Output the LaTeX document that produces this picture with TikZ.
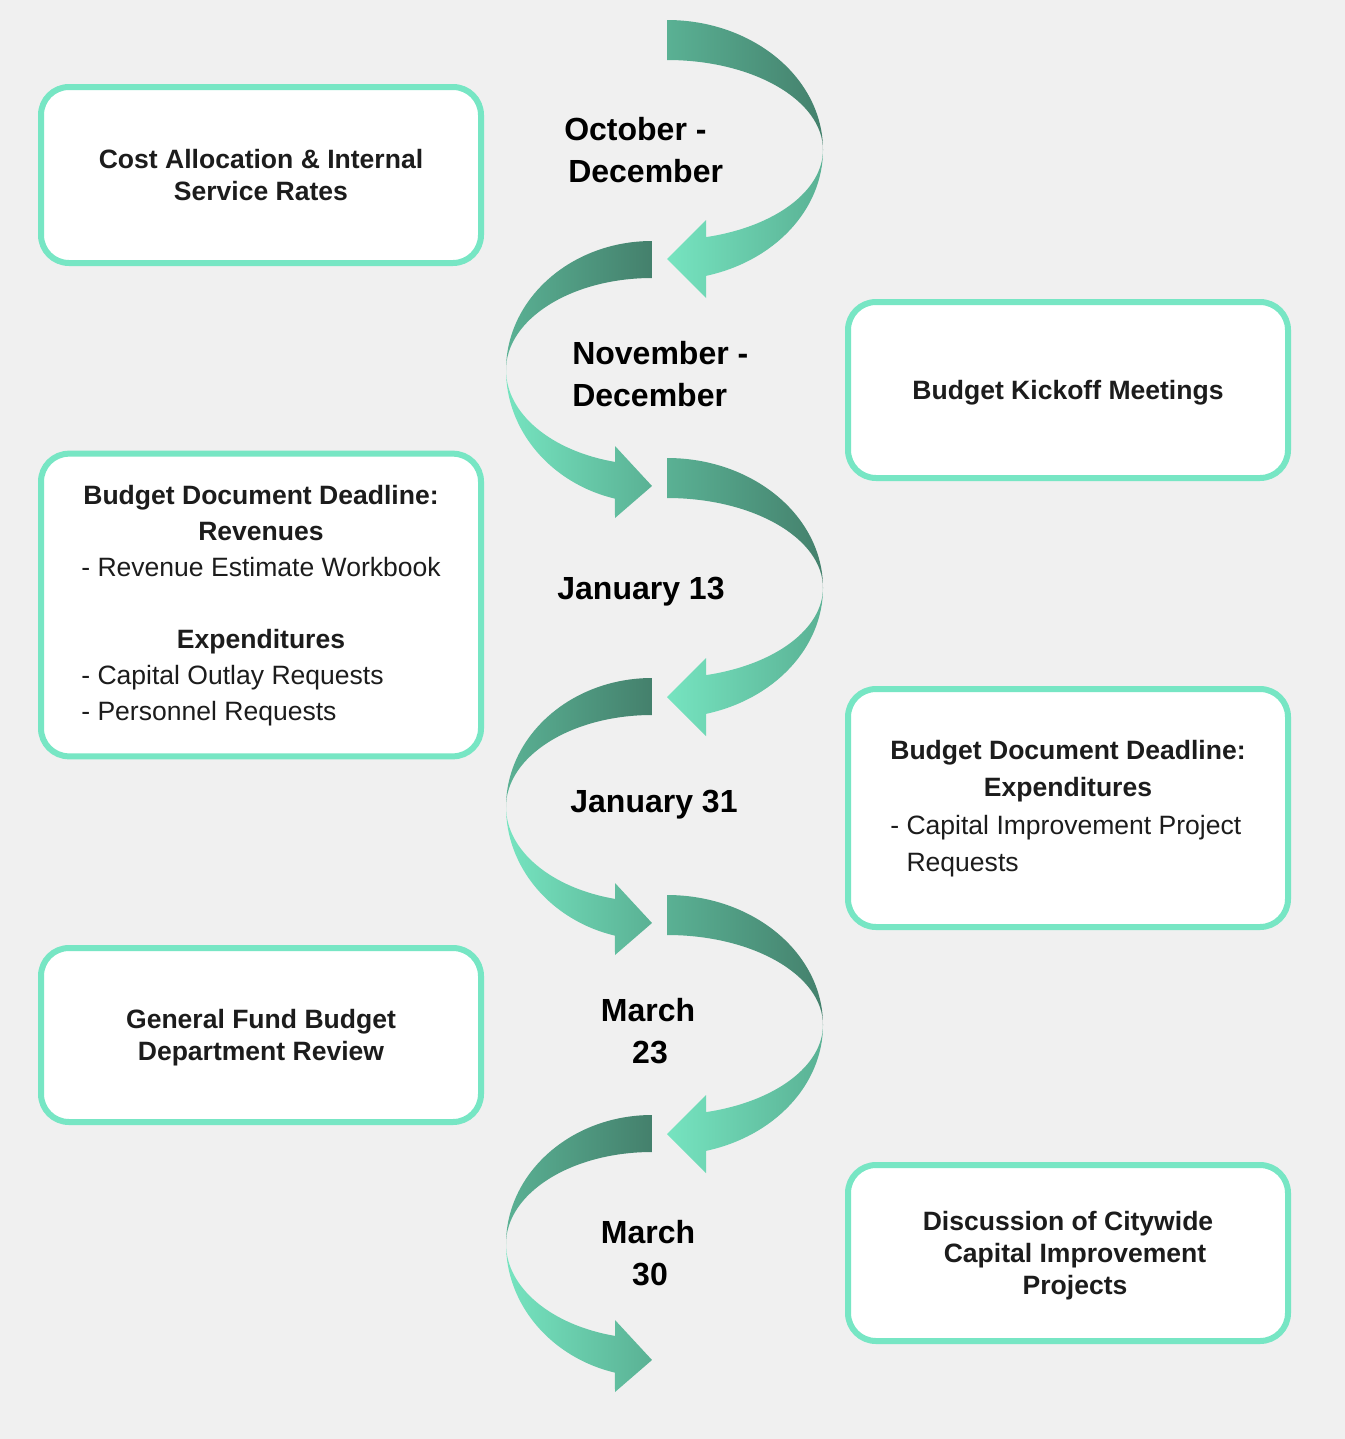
\documentclass[tikz,border=0pt]{standalone}
\usepackage{fontspec}
\setmainfont{Liberation Sans}
\usepackage{tikz}

\definecolor{pagebg}{HTML}{F0F0F0}
\definecolor{mint}{HTML}{77E6C4}
\definecolor{boxtext}{HTML}{1C1C1C}
\definecolor{arrlight}{HTML}{76E4C0}
\definecolor{arrmid}{HTML}{5AB194}
\definecolor{arrdark}{HTML}{44806C}

\newcommand{\boxfont}{\fontsize{19.9}{24}\selectfont}
\newcommand{\monthfont}{\fontsize{24}{31.5}\selectfont\bfseries}

% fold that bends to the right and comes back pointing left
\newcommand{\foldright}[2]{%
  \shade[left color=arrmid, right color=arrdark] (#1,#2-130)
    arc[start angle=-90, end angle=0, x radius=156, y radius=130]
    arc[start angle=0, end angle=-90, x radius=156, y radius=90] -- cycle;
  \shade[left color=arrlight, right color=arrmid] (#1+156,#2)
    arc[start angle=0, end angle=75.5, x radius=156, y radius=130]
    -- (#1+39,#2+148) -- (#1,#2+109) -- (#1+39,#2+70) -- (#1+39,#2+87.1)
    arc[start angle=75.5, end angle=0, x radius=156, y radius=90] -- cycle;
}
% fold that bends to the left and comes back pointing right
\newcommand{\foldleft}[2]{%
  \shade[left color=arrmid, right color=arrdark] (#1,#2-129)
    arc[start angle=-90, end angle=-180, x radius=146, y radius=129]
    arc[start angle=-180, end angle=-90, x radius=146, y radius=92] -- cycle;
  \shade[left color=arrlight, right color=arrmid] (#1-146,#2)
    arc[start angle=180, end angle=104.7, x radius=146, y radius=133]
    -- (#1-37,#2+148) -- (#1,#2+116) -- (#1-37,#2+76) -- (#1-37,#2+91.9)
    arc[start angle=104.7, end angle=180, x radius=146, y radius=95] -- cycle;
}

\begin{document}
\begin{tikzpicture}[x=0.75pt, y=-0.75pt,
  box/.style={draw=mint, line width=4.5pt, fill=white, rounded corners=21pt,
    minimum width=330pt, minimum height=132pt, align=center, text=boxtext, font=\boxfont},
  boldbox/.style={box, font=\boxfont\bfseries, text depth=0pt},
  month/.style={inner sep=0pt, text=black, font=\monthfont}]
  \fill[pagebg] (0,0) rectangle (1345,1439);

  % the arrows
  \foldright{667}{150}
  \foldleft{652}{370}
  \foldright{667}{588}
  \foldleft{652}{807}
  \foldright{667}{1025}
  \foldleft{652}{1244}

  % dates
  \node[month, anchor=west, align=left] (octdec) at (564,150) {October -\\\hspace*{3pt}December};
  \node[month, anchor=west, align=left] (novdec) at (572,374) {November -\\December};
  \node[month, anchor=base] (jan13) at (641,599) {January 13};
  \node[month, anchor=base] (jan31) at (654,812) {January 31};
  \node[month, align=center] (mar23) at (648,1031) {March\\\hspace*{3pt}23};
  \node[month, align=center] (mar30) at (648,1253) {March\\\hspace*{3pt}30};

  % left column
  \node[boldbox] (costalloc) at (261,175) {Cost Allocation \& Internal\\Service Rates};
  \node[box, minimum height=227pt, font={\fontsize{19.9}{27}\selectfont}] (revenues) at (261,605) {%
    \begin{tabular}{@{}l@{}}
      \multicolumn{1}{@{}c@{}}{\textbf{Budget Document Deadline:}}\\
      \multicolumn{1}{@{}c@{}}{\textbf{Revenues}}\\
      - Revenue Estimate Workbook\\
      \\
      \multicolumn{1}{@{}c@{}}{\textbf{Expenditures}}\\
      - Capital Outlay Requests\\
      - Personnel Requests
    \end{tabular}};
  \node[boldbox, minimum height=130.5pt] (genfund) at (261,1035) {General Fund Budget\\Department Review};

  % right column
  \node[boldbox] (kickoff) at (1068,390) {Budget Kickoff Meetings};
  \node[box, minimum height=178.5pt, font={\fontsize{19.9}{28}\selectfont}] (cipdeadline) at (1068,808) {%
    \begin{tabular}{@{}l@{}}
      \multicolumn{1}{@{}c@{}}{\textbf{Budget Document Deadline:}}\\
      \multicolumn{1}{@{}c@{}}{\textbf{Expenditures}}\\
      - Capital Improvement Project\\
      \phantom{- }Requests
    \end{tabular}};
  \node[boldbox] (citywide) at (1068,1253) {Discussion of Citywide\\\hspace*{10.5pt}Capital Improvement\\\hspace*{10.5pt}Projects};
\end{tikzpicture}
\end{document}
